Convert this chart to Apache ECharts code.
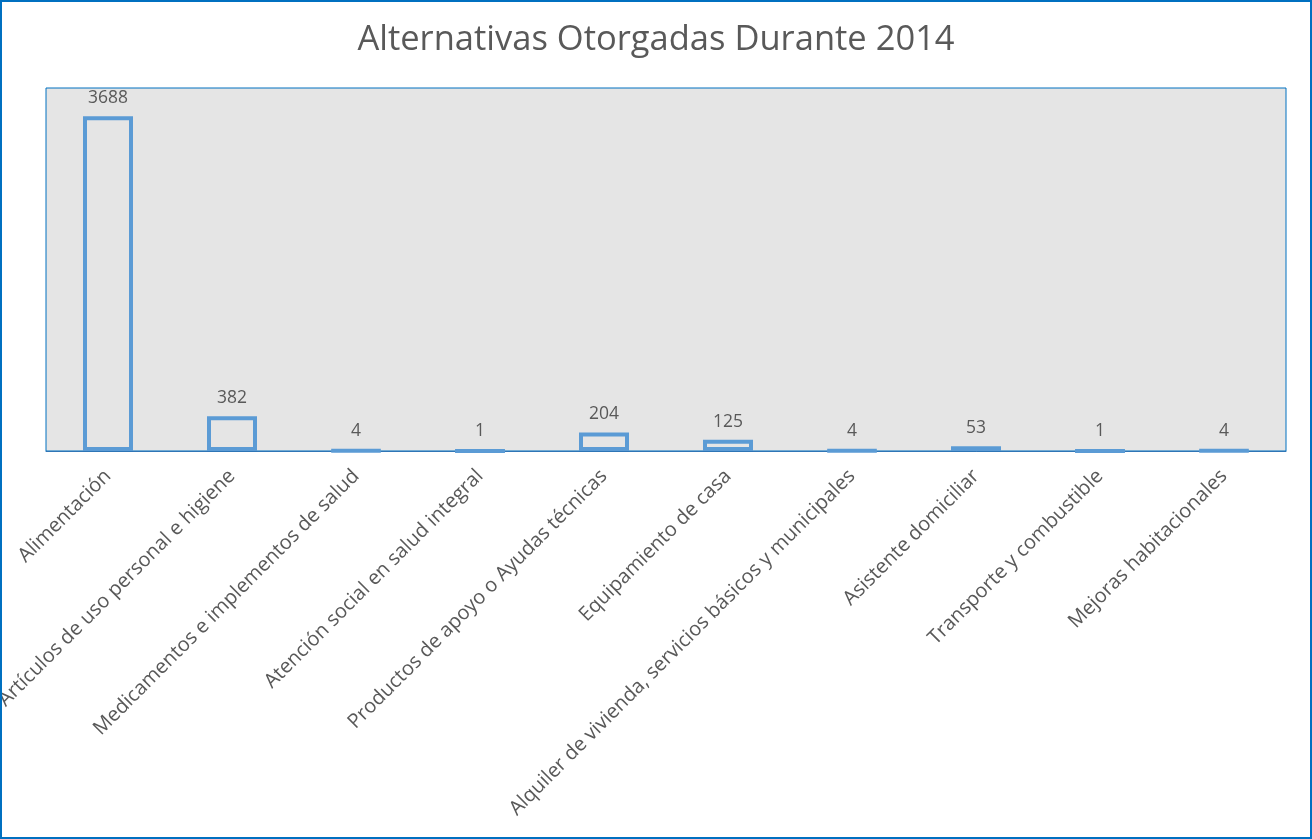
<!DOCTYPE html>
<html><head><meta charset="utf-8">
<script src="https://cdn.jsdelivr.net/npm/echarts@6/dist/echarts.min.js"></script>
<style>
html,body{margin:0;padding:0;background:#fff;}
#c{width:1312px;height:839px;position:relative;}
#frame{position:absolute;left:0;top:0;width:1312px;height:839px;box-sizing:border-box;border:2px solid #0070c0;pointer-events:none;}
</style></head>
<body>
<div style="position:relative;width:1312px;height:839px;">
<div id="c"></div><div id="frame"></div>
</div>
<script>
const titleText = "Alternativas Otorgadas Durante 2014";
const categories = [
  "Alimentación",
  "Artículos de uso personal e higiene",
  "Medicamentos e implementos de salud",
  "Atención social en salud integral",
  "Productos de apoyo o Ayudas técnicas",
  "Equipamiento de casa",
  "Alquiler de vivienda, servicios básicos y municipales",
  "Asistente domiciliar",
  "Transporte y combustible",
  "Mejoras habitacionales"
];
const values = [3688, 382, 4, 1, 204, 125, 4, 53, 1, 4];

const chart = echarts.init(document.getElementById('c'), null, {renderer:'canvas'});
chart.setOption({
  animation:false,
  textStyle:{fontFamily:'Open Sans'},
  title:{text:titleText,left:'center',top:18,textStyle:{fontSize:34.5,fontWeight:'normal',color:'#595959',fontFamily:'Open Sans'}},
  grid:{left:46,top:88,right:26,bottom:388,outerBoundsMode:'none',containLabel:false,show:true,backgroundColor:'#e5e5e5',borderColor:'#0070c0',borderWidth:1},
  xAxis:{type:'category',data:categories,
    axisLine:{show:true,lineStyle:{color:'#2e75b6',width:1}},
    axisTick:{show:false},
    axisLabel:{rotate:45,interval:0,fontSize:20,color:'#595959',margin:22,fontFamily:'Open Sans'}},
  yAxis:{type:'value',min:0,max:4000,show:false,splitLine:{show:false}},
  series:[{type:'bar',data:values,barWidth:50,
    itemStyle:{color:'rgba(0,0,0,0)',borderColor:'#5b9bd5',borderWidth:4},
    label:{show:true,position:'top',distance:9,fontSize:17.5,color:'#595959',fontFamily:'Open Sans'}}]
});
</script>
</body></html>
